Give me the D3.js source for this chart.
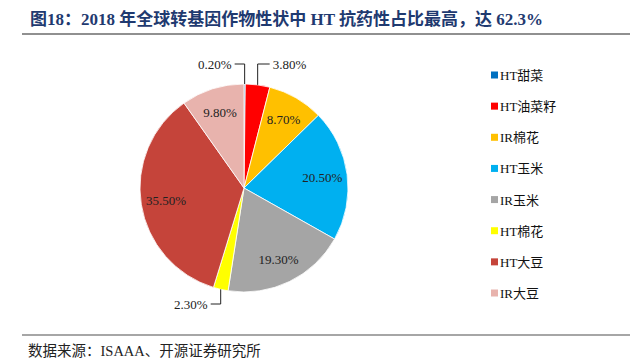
<!DOCTYPE html>
<html>
<head>
<meta charset="utf-8">
<script src="https://cdn.jsdelivr.net/npm/d3@7"></script>
<style>
  body { margin: 0; background: #fff; }
  svg { display: block; }
</style>
</head>
<body>
<svg id="chart" width="630" height="361"></svg>
<script>
// data
var categories = ["HT甜菜", "HT油菜籽", "IR棉花", "HT玉米", "IR玉米", "HT棉花", "HT大豆", "IR大豆"];
var shares = [0.2, 3.8, 8.7, 20.5, 19.3, 2.3, 35.5, 9.8];
var colors = ["#0070C0", "#FF0000", "#FFC000", "#00B0F0", "#A5A5A5", "#FFFF00", "#C5443A", "#E8B3AD"];
// slices labelled outside with a leader line
var outside = ["HT甜菜", "HT油菜籽", "HT棉花"];

var svg = d3.select("#chart");
var serif = "'Liberation Serif', 'Times New Roman', 'Noto Sans CJK SC', serif";

// title
svg.append("text")
  .attr("x", 30).attr("y", 25)
  .attr("fill", "#1F3A70")
  .style("font-family", serif)
  .style("font-size", "17px")
  .style("font-weight", "bold")
  .text("图18：2018 年全球转基因作物性状中 HT 抗药性占比最高，达 62.3%");

svg.append("line")
  .attr("x1", 22).attr("x2", 630).attr("y1", 34).attr("y2", 34)
  .attr("stroke", "#222").attr("stroke-width", 1.2);

svg.append("line")
  .attr("x1", 22).attr("x2", 630).attr("y1", 335).attr("y2", 335)
  .attr("stroke", "#888").attr("stroke-width", 1.6);

svg.append("text")
  .attr("x", 28).attr("y", 356)
  .attr("fill", "#222")
  .style("font-family", serif)
  .style("font-size", "14.5px")
  .text("数据来源：ISAAA、开源证券研究所");

// pie
var cx = 244, cy = 188, r = 104;
var data = categories.map(function(c, i) { return { name: c, value: shares[i], color: colors[i] }; });

var pie = d3.pie().sort(null).value(function(d) { return d.value; });
var arc = d3.arc().innerRadius(0).outerRadius(r);
var labelArc = d3.arc().innerRadius(r * 0.76).outerRadius(r * 0.76);

var g = svg.append("g").attr("transform", "translate(" + cx + "," + cy + ")");
var arcs = pie(data);

g.selectAll("path.slice")
  .data(arcs)
  .enter().append("path")
  .attr("class", "slice")
  .attr("d", arc)
  .attr("fill", function(d) { return d.data.color; })
  .attr("stroke", "#fff")
  .attr("stroke-width", 0.8);

function fmt(v) { return v.toFixed(2) + "%"; }

// inside labels
g.selectAll("text.inner")
  .data(arcs.filter(function(d) { return outside.indexOf(d.data.name) < 0; }))
  .enter().append("text")
  .attr("class", "inner")
  .attr("transform", function(d) { return "translate(" + labelArc.centroid(d) + ")"; })
  .attr("text-anchor", "middle")
  .attr("dy", "0.35em")
  .style("font-family", serif)
  .style("font-size", "13px")
  .attr("fill", "#222")
  .text(function(d) { return fmt(d.data.value); });

// outside labels with leader lines
arcs.filter(function(d) { return outside.indexOf(d.data.name) >= 0; }).forEach(function(d) {
  var mid = (d.startAngle + d.endAngle) / 2;
  var ex = Math.sin(mid) * r, ey = -Math.cos(mid) * r;
  var top = ey < 0;
  var vy = top ? -r - 20 : r + 12;
  var left = ex < 2;
  var hx = left ? ex - 10 : ex + 12;
  g.append("polyline")
    .attr("points", [[ex, ey], [ex, vy], [hx, vy]].map(function(p) { return p.join(","); }).join(" "))
    .attr("fill", "none")
    .attr("stroke", "#222")
    .attr("stroke-width", 1);
  g.append("text")
    .attr("x", left ? hx - 3 : hx + 3)
    .attr("y", vy)
    .attr("dy", "0.35em")
    .attr("text-anchor", left ? "end" : "start")
    .style("font-family", serif)
    .style("font-size", "13px")
    .attr("fill", "#222")
    .text(fmt(d.data.value));
});

// legend
var ly = d3.scalePoint().domain(categories).range([75, 293]);
var lg = svg.append("g").selectAll("g")
  .data(data)
  .enter().append("g")
  .attr("transform", function(d) { return "translate(491," + ly(d.name) + ")"; });

lg.append("rect")
  .attr("x", 0).attr("y", -3.5)
  .attr("width", 7).attr("height", 7)
  .attr("fill", function(d) { return d.color; });

lg.append("text")
  .attr("x", 9).attr("y", 0)
  .attr("dy", "0.38em")
  .style("font-family", serif)
  .style("font-size", "13px")
  .attr("fill", "#111")
  .text(function(d) { return d.name; });
</script>
</body>
</html>
